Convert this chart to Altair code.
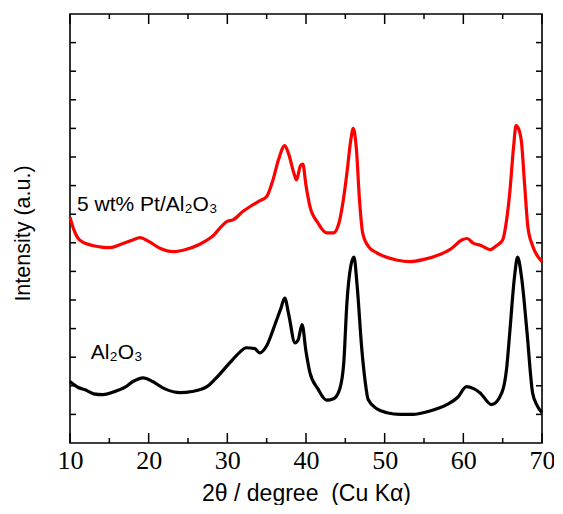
import altair as alt
import pandas as pd

# ---- data ----
al_x = [10.0, 11.0, 12.0, 13.0, 14.2, 15.5, 17.0, 18.0, 19.3, 20.5, 22.0, 24.0, 25.5, 27.4,
        28.5, 30.3, 31.5, 32.4, 33.5, 34.1, 35.0, 36.0, 36.8, 37.3, 37.8, 38.6, 39.0, 39.5,
        40.0, 40.5, 41.5, 42.6, 43.5, 44.3, 44.8, 45.2, 45.7, 46.1, 46.5, 47.1, 47.5, 47.9,
        49.0, 50.3, 52.0, 53.6, 55.5, 57.9, 59.3, 60.4, 61.3, 62.1, 63.6, 64.9, 65.5, 65.9,
        66.5, 66.9, 67.4, 68.1, 68.8, 69.4, 70.0]
al_y = [2.15, 1.95, 1.85, 1.72, 1.69, 1.78, 1.95, 2.15, 2.28, 2.15, 1.90, 1.76, 1.80, 1.97,
        2.25, 2.80, 3.15, 3.33, 3.30, 3.15, 3.40, 4.10, 4.70, 5.07, 4.50, 3.50, 3.60, 4.14,
        3.20, 2.46, 1.90, 1.50, 1.55, 1.90, 2.80, 4.90, 6.20, 6.50, 5.50, 3.26, 2.20, 1.52,
        1.20, 1.06, 1.00, 1.00, 1.10, 1.34, 1.60, 1.97, 1.90, 1.76, 1.34, 1.76, 2.60, 3.86,
        5.80, 6.50, 5.80, 3.86, 1.76, 1.30, 1.06]

pt_x = [10.0, 10.5, 11.2, 12.5, 14.0, 15.1, 16.5, 18.0, 18.9, 20.0, 21.5, 23.1, 24.5, 26.5,
        28.0, 30.0, 30.7, 32.0, 32.9, 34.0, 35.0, 35.8, 36.5, 37.3, 37.8, 38.5, 38.8, 39.3,
        39.6, 40.0, 40.5, 41.5, 42.6, 43.5, 44.2, 44.8, 45.2, 45.7, 46.0, 46.4, 46.8, 47.2,
        48.0, 49.0, 51.5, 53.2, 55.0, 57.0, 58.5, 59.8, 60.5, 61.2, 62.3, 63.4, 64.2, 65.0,
        65.5, 65.9, 66.4, 66.7, 67.0, 67.4, 67.8, 68.2, 68.8, 69.4, 70.0]
pt_y = [7.90, 7.45, 7.10, 6.93, 6.85, 6.83, 6.95, 7.10, 7.18, 7.05, 6.80, 6.69, 6.75, 6.95,
        7.20, 7.75, 7.80, 8.10, 8.27, 8.45, 8.62, 9.20, 9.90, 10.40, 10.10, 9.40, 9.20, 9.70,
        9.75, 9.00, 8.27, 7.70, 7.35, 7.35, 7.70, 8.60, 9.44, 10.60, 11.00, 10.30, 8.50, 7.35,
        6.85, 6.65, 6.40, 6.34, 6.42, 6.59, 6.80, 7.10, 7.15, 7.00, 6.90, 6.76, 6.90, 7.10,
        7.80, 8.75, 10.40, 11.10, 11.00, 10.50, 9.00, 7.57, 6.90, 6.55, 6.34]

series_names = ["Al2O3", "5 wt% Pt/Al2O3"]
series_colors = ["#000000", "#ff0000"]

label_text = ["5 wt% Pt/Al\u2082O\u2083", "Al\u2082O\u2083"]
label_x = [10.9, 12.65]
label_y = [8.12, 2.92]

x_major = [10, 20, 30, 40, 50, 60, 70]
x_minor = [15, 25, 35, 45, 55, 65]
y_ticks = list(range(1, 15))

W, H = 472, 429

df = pd.concat([
    pd.DataFrame({"x": al_x, "y": al_y, "s": series_names[0]}),
    pd.DataFrame({"x": pt_x, "y": pt_y, "s": series_names[1]}),
])
lab = pd.DataFrame({"t": label_text, "x": label_x, "y": label_y})
xmaj = pd.DataFrame({"v": x_major})
xmin = pd.DataFrame({"v": x_minor})
yt = pd.DataFrame({"v": y_ticks})

xscale = alt.Scale(domain=[10, 70], nice=False, zero=False)
yscale = alt.Scale(domain=[0, 15], nice=False, zero=False)

xaxis = alt.Axis(values=x_major, format="d", title="2\u03b8 / degree \u00a0(Cu K\u03b1)",
                 labelFont="Liberation Serif", labelFontSize=26, labelColor="black",
                 labelPadding=4, tickSize=0, domain=False, grid=False, labelFlush=False,
                 titleFont="Liberation Sans", titleFontSize=23, titleFontWeight="normal",
                 titleColor="black", titlePadding=9)
yaxis = alt.Axis(labels=False, ticks=False, domain=False, grid=False,
                 title="Intensity (a.u.)", titleFont="Liberation Sans", titleFontSize=21.5,
                 titleFontWeight="normal", titleColor="black", titlePadding=36, titleY=219)

lines = alt.Chart(df).mark_line(strokeWidth=3.2, interpolate="monotone", strokeJoin="round").encode(
    x=alt.X("x:Q", scale=xscale, axis=xaxis),
    y=alt.Y("y:Q", scale=yscale, axis=yaxis),
    color=alt.Color("s:N", scale=alt.Scale(domain=series_names, range=series_colors), legend=None),
    detail="s:N",
)

labels = alt.Chart(lab).mark_text(align="left", baseline="alphabetic", font="Liberation Sans",
                                  fontSize=21, color="black").encode(
    x=alt.X("x:Q", scale=xscale), y=alt.Y("y:Q", scale=yscale), text="t:N")

tick_style = dict(color="black", strokeWidth=1.5)
xb_major = alt.Chart(xmaj).mark_rule(**tick_style).encode(
    x=alt.X("v:Q", scale=xscale), y=alt.value(H), y2=alt.value(H - 10))
xt_major = alt.Chart(xmaj).mark_rule(**tick_style).encode(
    x=alt.X("v:Q", scale=xscale), y=alt.value(0), y2=alt.value(10))
xb_minor = alt.Chart(xmin).mark_rule(**tick_style).encode(
    x=alt.X("v:Q", scale=xscale), y=alt.value(H), y2=alt.value(H - 5))
xt_minor = alt.Chart(xmin).mark_rule(**tick_style).encode(
    x=alt.X("v:Q", scale=xscale), y=alt.value(0), y2=alt.value(5))
yl = alt.Chart(yt).mark_rule(**tick_style).encode(
    y=alt.Y("v:Q", scale=yscale), x=alt.value(0), x2=alt.value(6))
yr = alt.Chart(yt).mark_rule(**tick_style).encode(
    y=alt.Y("v:Q", scale=yscale), x=alt.value(W), x2=alt.value(W - 6))

chart = alt.layer(lines, labels, xb_major, xt_major, xb_minor, xt_minor, yl, yr).properties(
    width=W, height=H,
    autosize=alt.AutoSizeParams(type="none"),
    padding={"left": 62, "top": 6, "right": 12, "bottom": 62},
    background="white",
).configure_view(stroke="black", strokeWidth=1.6)

chart.save("out.html", embed_options={"renderer": "svg", "actions": False})
